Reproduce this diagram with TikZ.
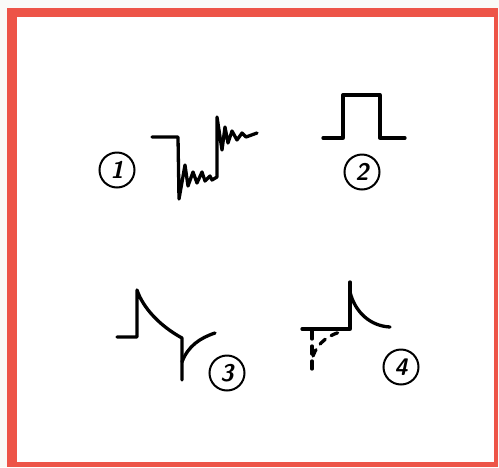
\documentclass[tikz,border=0pt]{standalone}
\definecolor{framered}{RGB}{237,84,72}
\definecolor{paper}{RGB}{250,250,248}
\tikzset{wave/.style={line width=3.3pt,line join=round,line cap=round},
 numcirc/.style={circle,draw,line width=2pt,minimum size=35pt,inner sep=0pt,font=\sffamily\bfseries\itshape\fontsize{24}{24}\selectfont}}
\begin{document}
\begin{tikzpicture}[x=1pt,y=-1pt]
\useasboundingbox (0,0) rectangle (499,467);
\fill[paper] (0,0) rectangle (499,467);
\fill[framered] (7,8) rectangle (498,467);\fill[white] (17,17) rectangle (494,462);
\node[numcirc] (n1) at (117,170){1};\node[numcirc] (n2) at (362,172){2};\node[numcirc] (n3) at (227,373){3};\node[numcirc] (n4) at (401,367){4};
\draw[wave] (152,137)--(178,137)--(179,199)--(185,165)--(188,186)--(193,172)--(197,183)--(202,172)--(205,181)--(210,176)--(212,180)--(217,177)--(217,117)--(222,150)--(225,127)--(228,143)--(232,131)--(237,140)--(242,133)--(246,137)--(257,133);
\draw[wave] (323,138)--(343,138)--(343,95)--(380,95)--(380,138)--(405,138);
\draw[wave] (117,337)--(137,337)--(137,290) .. controls (143,308) and (160,326) .. (182,338)--(182,380);
\draw[wave] (182,362) .. controls (188,346) and (200,338) .. (215,333);
\draw[wave] (302,329)--(350,329)--(350,282);\draw[wave] (350,292) .. controls (355,312) and (370,326) .. (390,327);
\draw[wave,dash pattern=on 8pt off 7pt] (312,331)--(312,374);\draw[wave,dash pattern=on 7pt off 7pt] (313,356) .. controls (318,342) and (330,334) .. (344,331);
\end{tikzpicture}
\end{document}
